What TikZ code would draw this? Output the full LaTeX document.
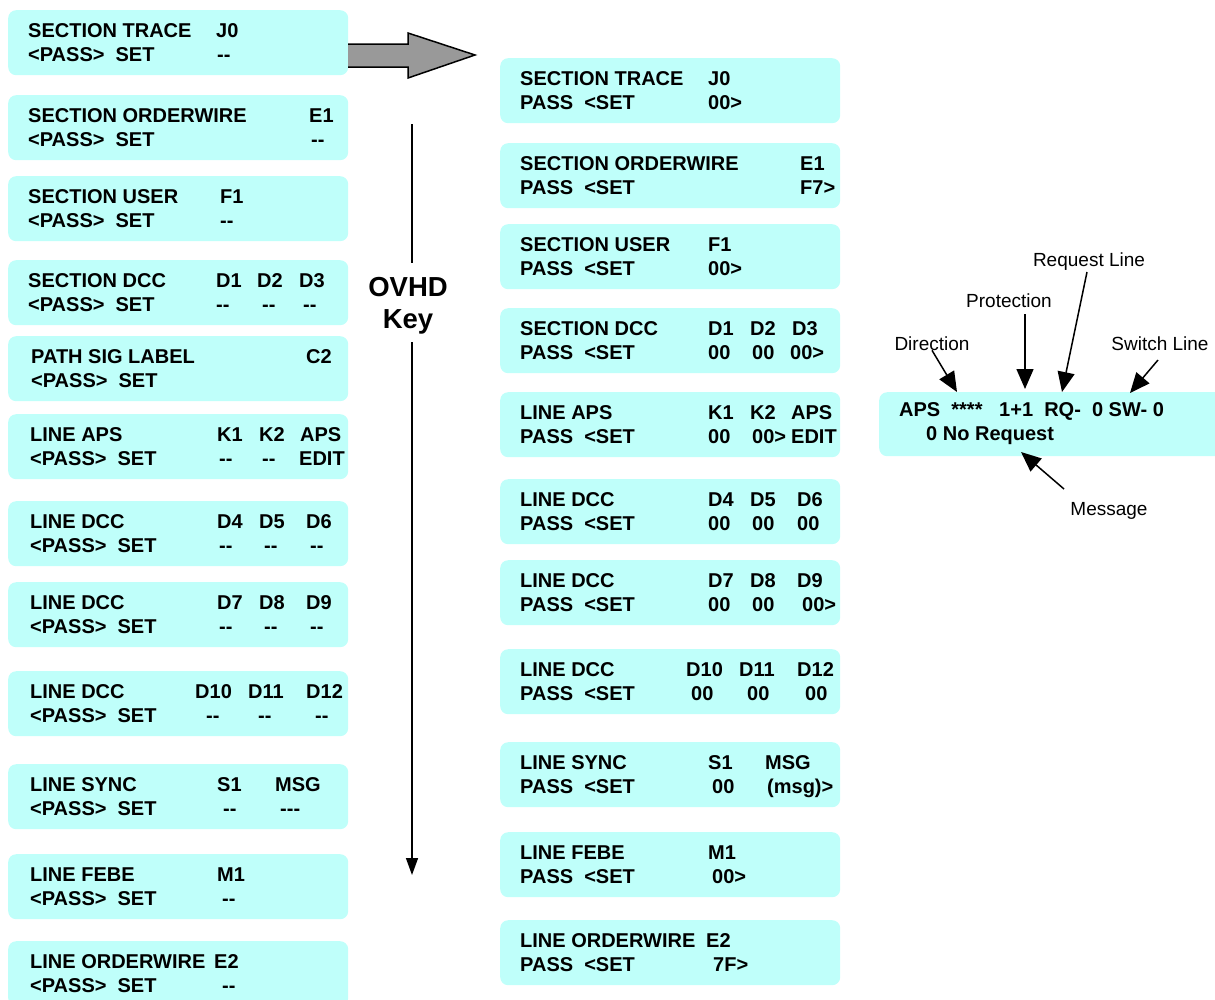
\documentclass[tikz,border=0pt]{standalone}
\usepackage{fontspec}
\setmainfont{Liberation Sans}[Ligatures=TeXOff]
\usetikzlibrary{arrows.meta}
\definecolor{panelfill}{RGB}{191,255,250}
\definecolor{bigarrow}{RGB}{153,153,153}

\tikzset{
  panel/.style={fill=panelfill, draw=none, rounded corners=8pt, minimum width=340pt,
    minimum height=65pt, inner sep=0pt, anchor=north west},
  txt/.style={anchor=base west, inner sep=0pt, font=\fontsize{20}{24}\selectfont\bfseries},
  lbl/.style={anchor=base, inner sep=0pt, font=\fontsize{19}{23}\selectfont},
  keytext/.style={inner sep=0pt, align=center, font=\fontsize{27.5}{32}\selectfont\bfseries},
  ptr/.style={line width=1.5pt, -{Triangle[length=20pt,width=17pt]}},
  rule/.style={line width=1.5pt},
}

% one display panel: name, left x, top y, items of line 1, items of line 2 (x/text)
\newcommand\panelbox[5]{%
  \node[panel] (#1) at (#2,#3) {};
  \foreach \x/\t [count=\i] in {#4} \node[txt] (#1-a\i) at (\x,#3+27) {\t};
  \foreach \x/\t [count=\i] in {#5} \node[txt] (#1-b\i) at (\x,#3+51) {\t};
}

\begin{document}
\begin{tikzpicture}[x=1pt,y=-1pt]
\useasboundingbox (0,0) rectangle (1215,999);

% ---- left column: pass mode ----
\panelbox{L1}{8}{10}{28/SECTION TRACE, 216/J0}{28/<PASS>~~SET, 217/--}
\panelbox{L2}{8}{95}{28/SECTION ORDERWIRE, 309/E1}{28/<PASS>~~SET, 311/--}
\panelbox{L3}{8}{176}{28/SECTION USER, 220/F1}{28/<PASS>~~SET, 220/--}
\panelbox{L4}{8}{260}{28/SECTION DCC, 216/D1, 257/D2, 299/D3}{28/<PASS>~~SET, 216/--, 262/--, 303/--}
\panelbox{L5}{8}{336}{31/PATH SIG LABEL, 306/C2}{31/<PASS>~~SET}
\panelbox{L6}{8}{414}{30/LINE APS, 217/K1, 259/K2, 300/APS}{30/<PASS>~~SET, 219/--, 262/--, 299/EDIT}
\panelbox{L7}{8}{501}{30/LINE DCC, 217/D4, 259/D5, 306/D6}{30/<PASS>~~SET, 219/--, 264/--, 310/--}
\panelbox{L8}{8}{582}{30/LINE DCC, 217/D7, 259/D8, 306/D9}{30/<PASS>~~SET, 219/--, 264/--, 310/--}
\panelbox{L9}{8}{671}{30/LINE DCC, 195/D10, 248/D11, 306/D12}{30/<PASS>~~SET, 206/--, 258/--, 315/--}
\panelbox{L10}{8}{764}{30/LINE SYNC, 217/S1, 275/MSG}{30/<PASS>~~SET, 223/--, 280/---}
\panelbox{L11}{8}{854}{30/LINE FEBE, 217/M1}{30/<PASS>~~SET, 222/--}
\panelbox{L12}{8}{941}{30/LINE ORDERWIRE, 214/E2}{30/<PASS>~~SET, 222/--}

% ---- right column: set mode ----
\panelbox{R1}{500}{58}{520/SECTION TRACE, 708/J0}{520/PASS~~<SET, 708/00>}
\panelbox{R2}{500}{143}{520/SECTION ORDERWIRE, 800/E1}{520/PASS~~<SET, 800/F7>}
\panelbox{R3}{500}{224}{520/SECTION USER, 708/F1}{520/PASS~~<SET, 708/00>}
\panelbox{R4}{500}{308}{520/SECTION DCC, 708/D1, 750/D2, 792/D3}{520/PASS~~<SET, 708/00, 752/00, 790/00>}
\panelbox{R5}{500}{392}{520/LINE APS, 708/K1, 750/K2, 791/APS}{520/PASS~~<SET, 708/00, 752/00>, 791/EDIT}
\panelbox{R6}{500}{479}{520/LINE DCC, 708/D4, 750/D5, 797/D6}{520/PASS~~<SET, 708/00, 752/00, 797/00}
\panelbox{R7}{500}{560}{520/LINE DCC, 708/D7, 750/D8, 797/D9}{520/PASS~~<SET, 708/00, 752/00, 802/00>}
\panelbox{R8}{500}{649}{520/LINE DCC, 686/D10, 739/D11, 797/D12}{520/PASS~~<SET, 691/00, 747/00, 805/00}
\panelbox{R9}{500}{742}{520/LINE SYNC, 708/S1, 765/MSG}{520/PASS~~<SET, 712/00, 767/(msg)>}
\panelbox{R10}{500}{832}{520/LINE FEBE, 708/M1}{520/PASS~~<SET, 712/00>}
\panelbox{R11}{500}{920}{520/LINE ORDERWIRE, 706/E2}{520/PASS~~<SET, 713/7F>}

% ---- block arrow from pass to set ----
\draw[fill=bigarrow, line width=1.5pt, line join=miter]
  (348,44) -- (408,44) -- (408,33) -- (475,55) -- (408,78) -- (408,67) -- (348,67);

% ---- OVHD key scroll direction ----
\node[keytext] (key) at (408,306) {OVHD\\Key};
\coordinate (keyTop) at (412,124);
\coordinate (keyUp) at (412,263);
\coordinate (keyDown) at (412,342);
\coordinate (keyEnd) at (412,875);
\draw[rule] (keyTop) -- (keyUp);
\draw[rule, -{Triangle[length=17pt,width=12pt]}] (keyDown) -- (keyEnd);

% ---- APS status display with callouts ----
\node[panel, minimum width=345pt, minimum height=64pt] (aps) at (879,392) {};
\node[txt] (apsA) at (899,416) {APS~~****~~~1+1~~RQ-~~0 SW-~0};
\node[txt] (apsB) at (926,440) {0 No Request};

\node[lbl] (dir) at (932,350) {Direction};
\node[lbl] (prot) at (1009,307) {Protection};
\node[lbl] (req) at (1089,266) {Request Line};
\node[lbl] (sw) at (1160,350) {Switch Line};
\node[lbl] (msg) at (1109,515) {Message};

\coordinate (dirTo) at (957,392);
\coordinate (protFrom) at (1025,314);
\coordinate (protTo) at (1025,389);
\coordinate (reqFrom) at (1087,272);
\coordinate (reqTo) at (1062,392);
\coordinate (swFrom) at (1158,360);
\coordinate (swTo) at (1130,393);
\coordinate (msgFrom) at (1064,489);
\coordinate (msgTo) at (1021,452);

\draw[ptr] (dir.south) -- (dirTo);
\draw[ptr] (protFrom) -- (protTo);
\draw[ptr] (reqFrom) -- (reqTo);
\draw[ptr] (swFrom) -- (swTo);
\draw[ptr] (msgFrom) -- (msgTo);
\end{tikzpicture}
\end{document}
